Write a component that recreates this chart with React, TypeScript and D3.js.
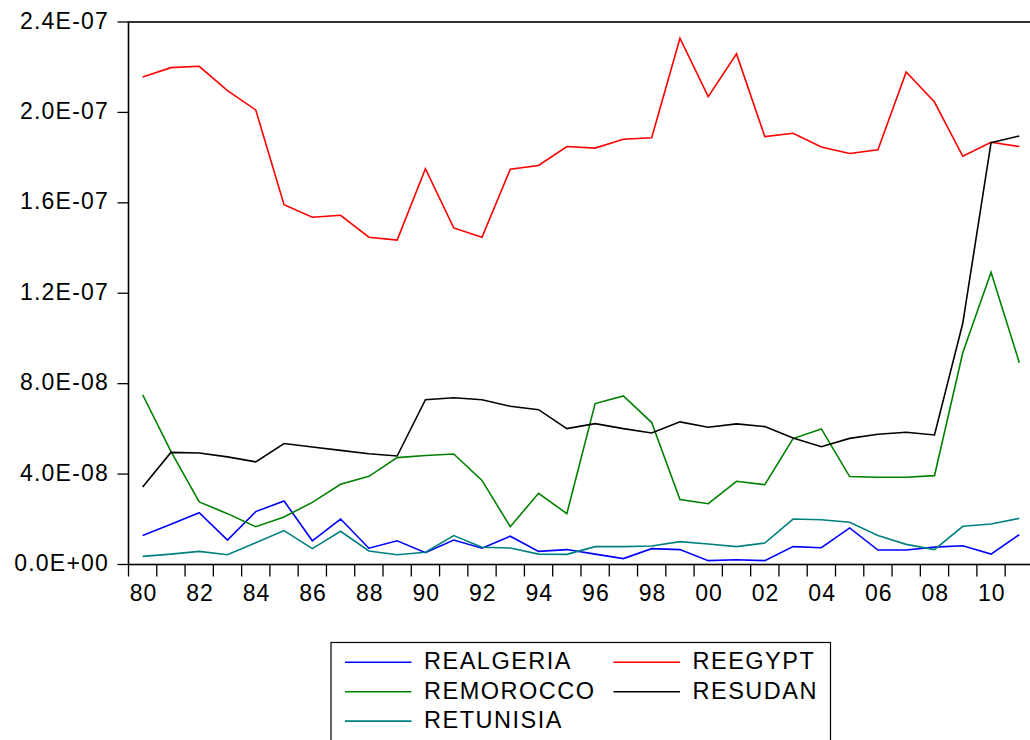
import React from "react";
import * as d3 from "d3";

const years: number[] = d3.range(1980, 2012);
const yTicks: number[] = [0, 4e-8, 8e-8, 1.2e-7, 1.6e-7, 2.0e-7, 2.4e-7];
const yTickLabels: string[] = ["0.0E+00", "4.0E-08", "8.0E-08", "1.2E-07", "1.6E-07", "2.0E-07", "2.4E-07"];
const xLabelYears: number[] = d3.range(1980, 2012, 2);

// values in units of 1e-8
const realgeria: number[] = [1.28, 1.78, 2.29, 1.08, 2.34, 2.81, 1.05, 2.01, 0.72, 1.05, 0.52, 1.08, 0.72, 1.25, 0.58, 0.66, 0.46, 0.26, 0.70, 0.66, 0.17, 0.21, 0.17, 0.79, 0.74, 1.62, 0.64, 0.64, 0.77, 0.83, 0.46, 1.32];
const reegypt: number[] = [21.57, 21.98, 22.04, 20.96, 20.11, 15.92, 15.36, 15.45, 14.48, 14.35, 17.51, 14.89, 14.48, 17.49, 17.65, 18.49, 18.42, 18.81, 18.88, 23.28, 20.70, 22.59, 18.93, 19.08, 18.47, 18.18, 18.35, 21.79, 20.46, 18.06, 18.68, 18.49];
const remorocco: number[] = [7.51, 5.0, 2.77, 2.25, 1.67, 2.10, 2.75, 3.55, 3.90, 4.73, 4.82, 4.89, 3.72, 1.67, 3.15, 2.25, 7.12, 7.46, 6.28, 2.87, 2.69, 3.68, 3.53, 5.57, 6.00, 3.89, 3.86, 3.86, 3.93, 9.37, 12.93, 8.93];
const resudan: number[] = [3.43, 4.96, 4.93, 4.76, 4.54, 5.35, 5.20, 5.05, 4.90, 4.80, 7.29, 7.38, 7.29, 7.00, 6.85, 6.01, 6.23, 6.01, 5.82, 6.31, 6.07, 6.22, 6.10, 5.60, 5.21, 5.58, 5.76, 5.85, 5.73, 10.67, 18.66, 18.96];
const retunisia: number[] = [0.36, 0.46, 0.58, 0.43, 0.96, 1.50, 0.70, 1.47, 0.60, 0.43, 0.54, 1.28, 0.76, 0.73, 0.46, 0.45, 0.79, 0.79, 0.82, 1.01, 0.91, 0.79, 0.95, 2.01, 1.98, 1.87, 1.28, 0.89, 0.66, 1.69, 1.79, 2.04];

const seriesNames: string[] = ["REALGERIA", "REEGYPT", "REMOROCCO", "RESUDAN", "RETUNISIA"];
const seriesValues: number[][] = [realgeria, reegypt, remorocco, resudan, retunisia];
const seriesColors: string[] = ["#0000FF", "#FF0000", "#008000", "#000000", "#008080"];

const FONT = "'Liberation Sans', Arial, sans-serif";

export default function App() {
  const x0 = 128.5;
  const yearW = 28.28;
  const x = d3.scaleLinear().domain([1979.5, 2011.5]).range([x0, x0 + 32 * yearW]);
  const y = d3.scaleLinear().domain([0, 2.4e-7]).range([564.5, 22]);
  const line = d3
    .line<number>()
    .x((_, i) => x(years[i]))
    .y((v) => y(v * 1e-8));

  const legendRows = [
    { i: 0, col: 0, row: 0 },
    { i: 1, col: 1, row: 0 },
    { i: 2, col: 0, row: 1 },
    { i: 3, col: 1, row: 1 },
    { i: 4, col: 0, row: 2 },
  ];

  const boundaries = d3.range(1979.5, 2012.5, 1);

  return (
    <svg width={1030} height={740} style={{ position: "absolute", left: 0, top: 0, background: "#fff" }}>
      <rect x={0} y={0} width={1030} height={740} fill="#fff" />
      {/* frame */}
      <rect x={x(1979.5)} y={y(2.4e-7)} width={x(2011.5) - x(1979.5)} height={y(0) - y(2.4e-7)} fill="none" stroke="#000" strokeWidth={1.6} />
      {/* y ticks */}
      {yTicks.map((t, i) => (
        <g key={"yt" + i}>
          <line x1={x0 - 11} x2={x0} y1={y(t)} y2={y(t)} stroke="#000" strokeWidth={1.3} />
          <text x={109} y={y(t) + 6.5} textAnchor="end" fontFamily={FONT} fontSize={23} letterSpacing={1.2} fill="#000">
            {yTickLabels[i]}
          </text>
        </g>
      ))}
      {/* x ticks */}
      {boundaries.map((b, i) => (
        <line key={"xt" + i} x1={x(b)} x2={x(b)} y1={y(0)} y2={y(0) + 12} stroke="#000" strokeWidth={1.3} />
      ))}
      {xLabelYears.map((yr) => (
        <text key={"xl" + yr} x={x(yr) + 0.8} y={600.5} textAnchor="middle" fontFamily={FONT} fontSize={23} letterSpacing={1} fill="#000">
          {String(yr % 100).padStart(2, "0")}
        </text>
      ))}
      {/* series */}
      {seriesValues.map((vals, i) => (
        <path key={"s" + i} d={line(vals) || ""} fill="none" stroke={seriesColors[i]} strokeWidth={1.6} strokeLinejoin="miter" />
      ))}
      {/* legend */}
      <rect x={331} y={642.5} width={499.5} height={110} fill="#fff" stroke="#000" strokeWidth={1.2} />
      {legendRows.map(({ i, col, row }) => {
        const lx = col === 0 ? 345 : 613.5;
        const ly = 662.3 + row * 29.4;
        return (
          <g key={"lg" + i}>
            <line x1={lx} x2={lx + 66.5} y1={ly} y2={ly} stroke={seriesColors[i]} strokeWidth={1.6} />
            <text x={lx + 79} y={ly + 7} fontFamily={FONT} fontSize={23.5} letterSpacing={1.5} fill="#000">
              {seriesNames[i]}
            </text>
          </g>
        );
      })}
    </svg>
  );
}
